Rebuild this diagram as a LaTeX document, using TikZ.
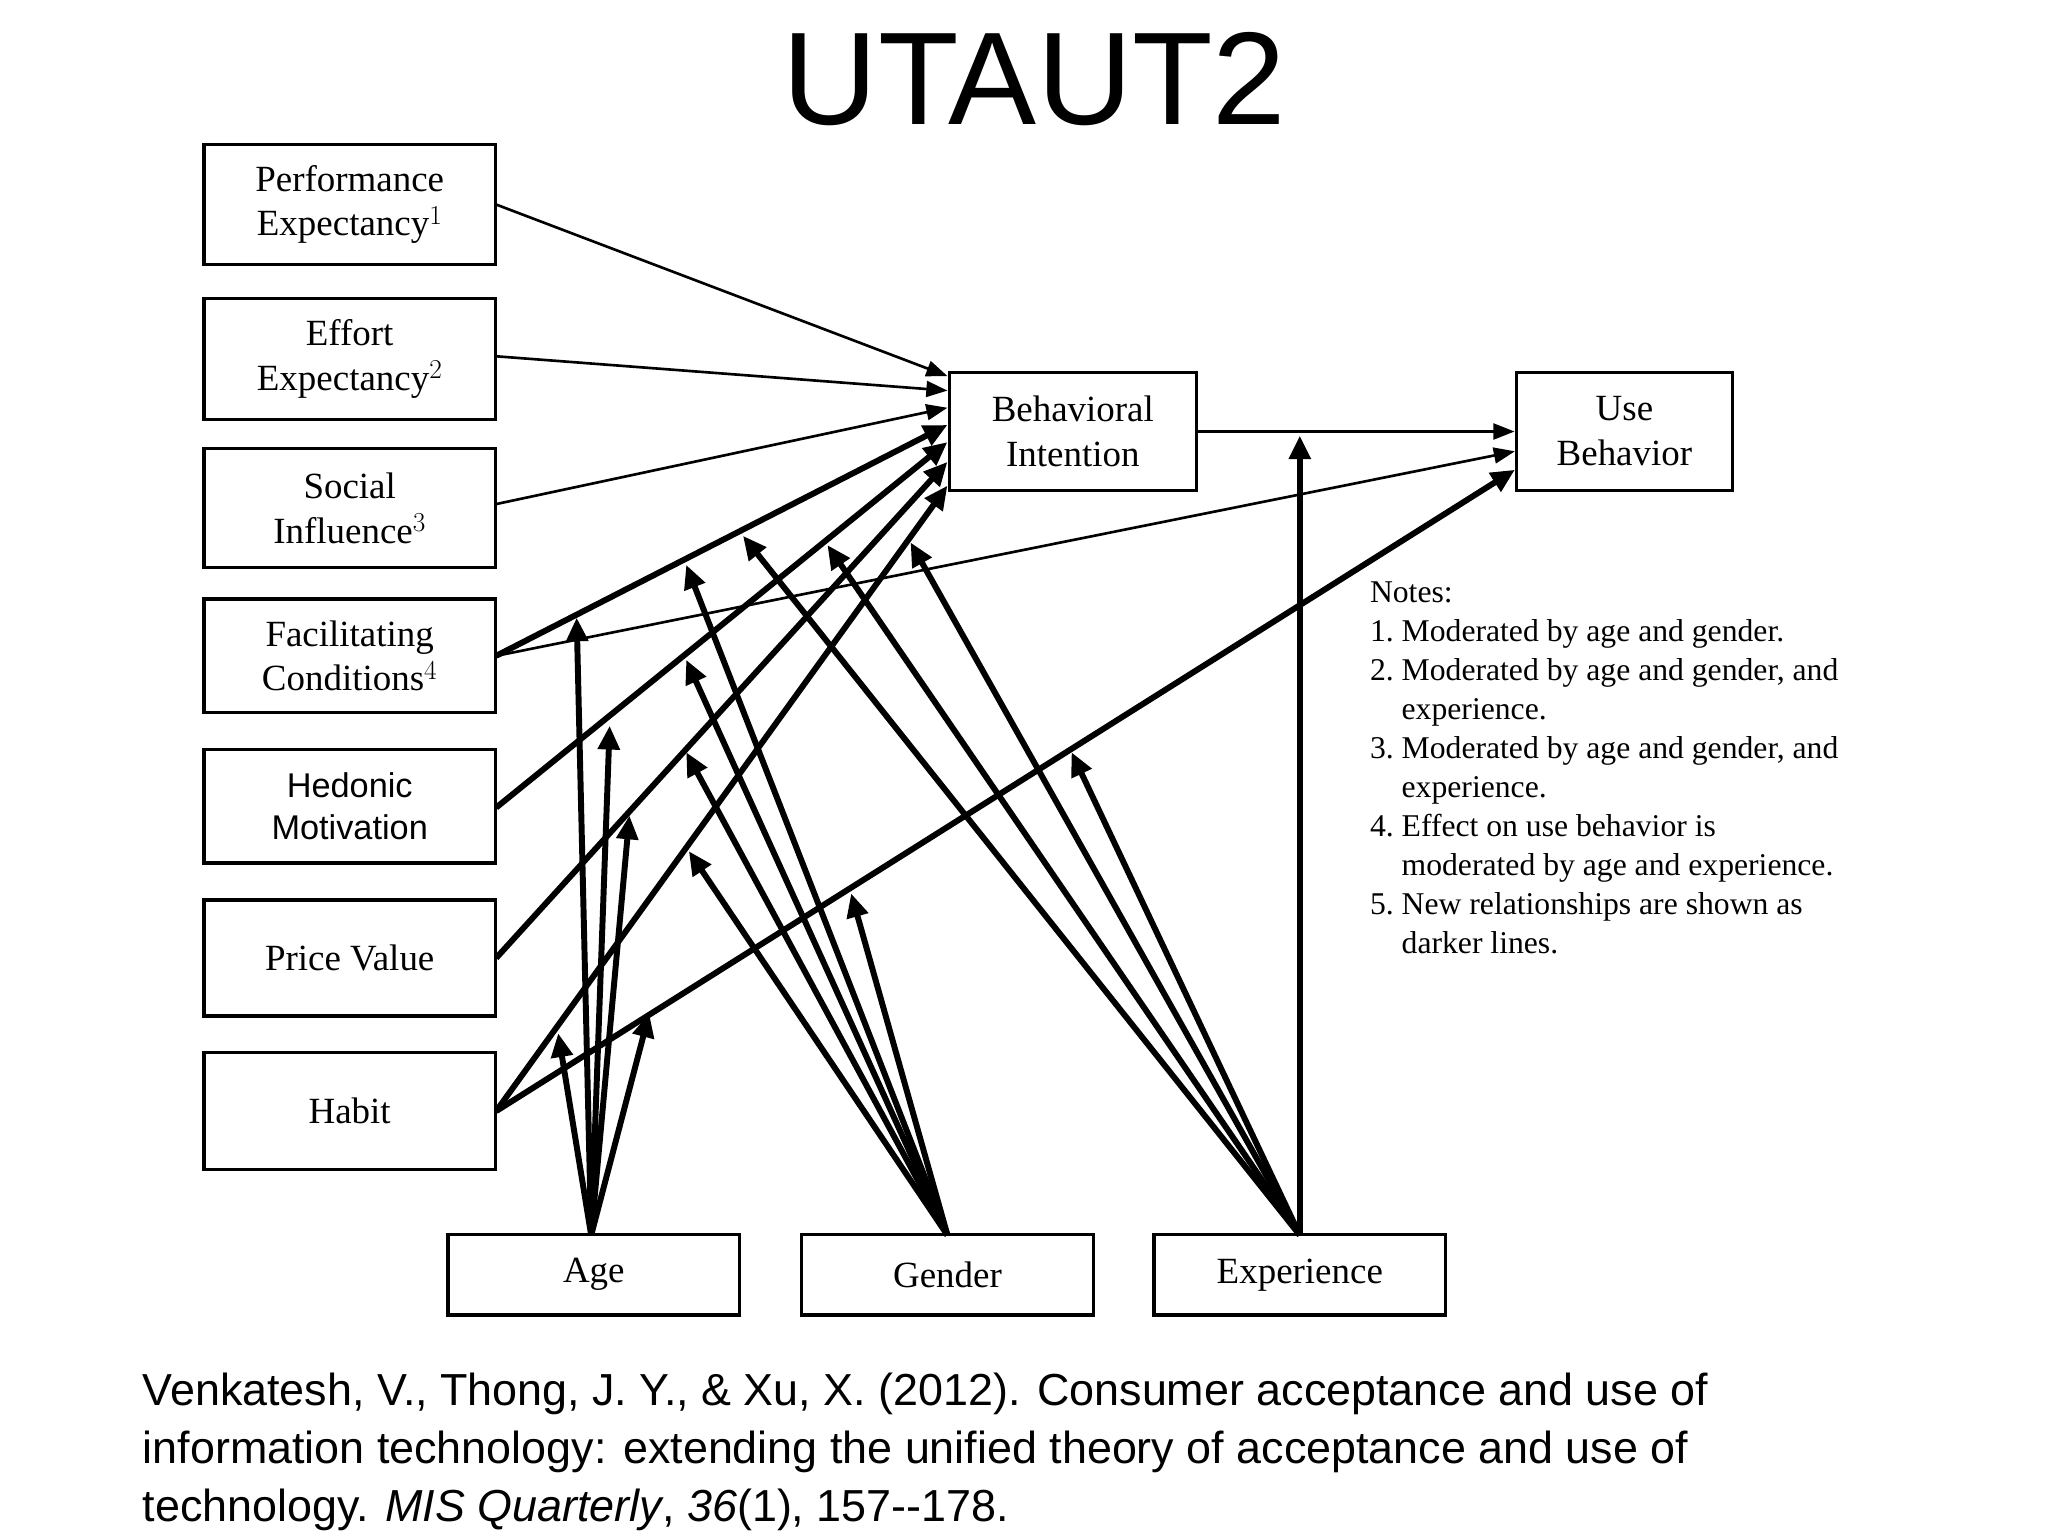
\documentclass[tikz,border=0pt]{standalone}
\usepackage{fontspec}
\setmainfont{Liberation Serif}
\newfontfamily\sansf{Liberation Sans}
\usetikzlibrary{arrows.meta}
\begin{document}
\begin{tikzpicture}[x=1pt,y=-1pt,
  box/.style={draw,line width=2.5pt,minimum width=221pt,inner sep=0pt,align=center,font=\fontsize{28}{34}\selectfont},
  thin/.style={line width=2pt,-{Triangle[length=16pt,width=12pt]}},
  thick/.style={line width=4.5pt,-{Triangle[length=18pt,width=16pt]}}]
\useasboundingbox (0,0) rectangle (1552,1164);
% title
\node (title) at (784,60) {\sansf\fontsize{100}{100}\selectfont UTAUT2};
% constructs
\node[box,minimum height=91pt] (pe) at (265,155) {Performance\\Expectancy$^1$};
\node[box,minimum height=92pt] (ee) at (265,272) {Effort\\Expectancy$^2$};
\node[box,minimum height=90pt] (si) at (265,385) {Social\\Influence$^3$};
\node[box,minimum height=86pt] (fc) at (265,497) {Facilitating\\Conditions$^4$};
\node[box,minimum height=86pt,font=\sansf\fontsize{26}{32}\selectfont] (hm) at (265,611) {Hedonic\\Motivation};
\node[box,minimum height=88pt] (pv) at (265,726) {Price Value};
\node[box,minimum height=89pt] (hb) at (265,842) {Habit};
\node[box,minimum width=187pt,minimum height=89pt] (bi) at (813,327) {Behavioral\\Intention};
\node[box,minimum width=164pt,minimum height=89pt] (ub) at (1231,327) {Use\\Behavior};
\node[box,minimum height=61pt] (age) at (450,966) {Age};
\node[box,minimum height=61pt] (gen) at (718,966) {Gender};
\node[box,minimum height=61pt] (exp) at (985,966) {Experience};
% notes
\node[anchor=north west,inner sep=0pt,font=\fontsize{24}{29.5}\selectfont] (notes) at (1038,436) {%
\begin{tabular}{@{}r@{~}l@{}}
\multicolumn{2}{@{}l}{Notes:}\\
1. & Moderated by age and gender.\\
2. & Moderated by age and gender, and\\
   & experience.\\
3. & Moderated by age and gender, and\\
   & experience.\\
4. & Effect on use behavior is\\
   & moderated by age and experience.\\
5. & New relationships are shown as\\
   & darker lines.
\end{tabular}};
% citation
\node[anchor=north west,inner sep=0pt,align=left,font=\sansf\fontsize{34}{44}\selectfont] (cite) at (108,1040) {Venkatesh, V., Thong, J. Y., \& Xu, X. (2012). Consumer acceptance and use of\\information technology: extending the unified theory of acceptance and use of\\technology. \textit{MIS Quarterly}, \textit{36}(1), 157--178.};
% points on the paths
\coordinate (bi1) at (718,285);
\coordinate (bi2) at (718,296);
\coordinate (bi3) at (718,309);
\coordinate (bi4) at (718,322);
\coordinate (bi5) at (718,335);
\coordinate (bi6) at (718,350);
\coordinate (bi7) at (718,368);
\coordinate (ub1) at (1148,342);
\coordinate (ub2) at (1148,356);
\coordinate (pe) at (376,155);
\coordinate (eeo) at (376,270);
\coordinate (sio) at (376,382);
\coordinate (fco) at (376,497);
\coordinate (hmo) at (376,612);
\coordinate (pvo) at (376,726);
\coordinate (hbo) at (376,842);
% main paths
\draw[thin] (pe) -- (bi1);
\draw[thin] (eeo) -- (bi2);
\draw[thin] (sio) -- (bi3);
\draw[thin] (fco) -- (ub1);
\draw[thick] (fco) -- (bi4);
\draw[thick] (hmo) -- (bi5);
\draw[thick] (pvo) -- (bi6);
\draw[thick] (hbo) -- (bi7);
\draw[thick] (hbo) -- (ub2);
\draw[thin] (bi.east) -- (ub.west);
% moderators
\coordinate (ageo) at (448,936);
\coordinate (geno) at (718,936);
\coordinate (expo) at (985,936);
\foreach \x/\y in {437/468,462/550,477/618,423/783,492/768}
  \draw[thick] (ageo) -- (\x,\y);
\foreach \x/\y in {520/428,520/500,520/570,522/645,645/677}
  \draw[thick] (geno) -- (\x,\y);
\foreach \x/\y in {563/406,627/413,690/411,812/570,985,330}
  {}
\foreach \x/\y in {563/406,627/413,690/411,812/570,985/330}
  \draw[thick] (expo) -- (\x,\y);
\end{tikzpicture}
\end{document}
